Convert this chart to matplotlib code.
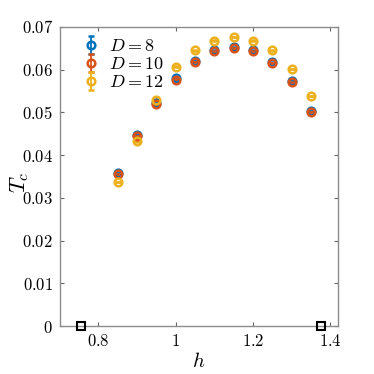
import matplotlib
matplotlib.use("Agg")
import matplotlib.pyplot as plt
import numpy as np

plt.rcParams['mathtext.fontset'] = 'cm'
plt.rcParams['font.family'] = 'serif'
plt.rcParams['font.serif'] = ['DejaVu Serif']

h = [0.85, 0.90, 0.95, 1.00, 1.05, 1.10, 1.15, 1.20, 1.25, 1.30, 1.35]
Tc_D8 = [0.0358, 0.0448, 0.0523, 0.0580, 0.0620, 0.0645, 0.0652, 0.0645, 0.0617, 0.0573, 0.0503]
Tc_D10 = [0.0355, 0.0445, 0.0520, 0.0577, 0.0618, 0.0643, 0.0650, 0.0643, 0.0615, 0.0570, 0.0501]
Tc_D12 = [0.0337, 0.0432, 0.0530, 0.0607, 0.0645, 0.0668, 0.0676, 0.0668, 0.0645, 0.0602, 0.0538]
err = [0.00005] * 11
labels = ['$D = 8$', '$D = 10$', '$D = 12$']
colors = ['#0072BD', '#D95319', '#EDB120']
sq_h = [0.755, 1.375]
sq_T = [0.0, 0.0]

xticks = [0.8, 1.0, 1.2, 1.4]
xticklabels = ['$0.8$', '$1$', '$1.2$', '$1.4$']
yticks = [0, 0.01, 0.02, 0.03, 0.04, 0.05, 0.06, 0.07]
yticklabels = ['$0$', '$0.01$', '$0.02$', '$0.03$', '$0.04$', '$0.05$', '$0.06$', '$0.07$']

fig = plt.figure(figsize=(3.74, 3.74), dpi=100)
ax = fig.add_axes([0.16, 0.128, 0.744, 0.8])

for y, lab, c in zip([Tc_D8, Tc_D10, Tc_D12], labels, colors):
    ax.errorbar(h, y, yerr=err, fmt='o', color=c, markersize=5.5, markeredgewidth=1.8,
                markerfacecolor='none', elinewidth=1.3, capsize=2.5, capthick=1.3, label=lab)

ax.plot(sq_h, sq_T, 's', markersize=6, markerfacecolor='none', markeredgecolor='black',
        markeredgewidth=1.5, clip_on=False, zorder=5)

ax.set_xlim(0.7, 1.42)
ax.set_ylim(0, 0.07)
ax.set_xticks(xticks)
ax.set_xticklabels(xticklabels, fontsize=12)
ax.set_yticks(yticks)
ax.set_yticklabels(yticklabels, fontsize=12)
ax.tick_params(direction='in', top=True, right=True, length=3, color='0.4', pad=5)
for s in ax.spines.values():
    s.set_color('0.55')
    s.set_linewidth(1.0)

ax.set_xlabel('$h$', fontsize=15)
ax.set_ylabel('$T_c$', fontsize=16)
ax.yaxis.set_label_coords(-0.105, 0.48)
ax.xaxis.set_label_coords(0.5, -0.085)

leg = ax.legend(loc='upper left', frameon=False, fontsize=13, handlelength=0.8,
                handletextpad=0.6, labelspacing=0.0, borderaxespad=0.0,
                bbox_to_anchor=(0.06, 0.99))

fig.savefig('out.png', dpi=100)
